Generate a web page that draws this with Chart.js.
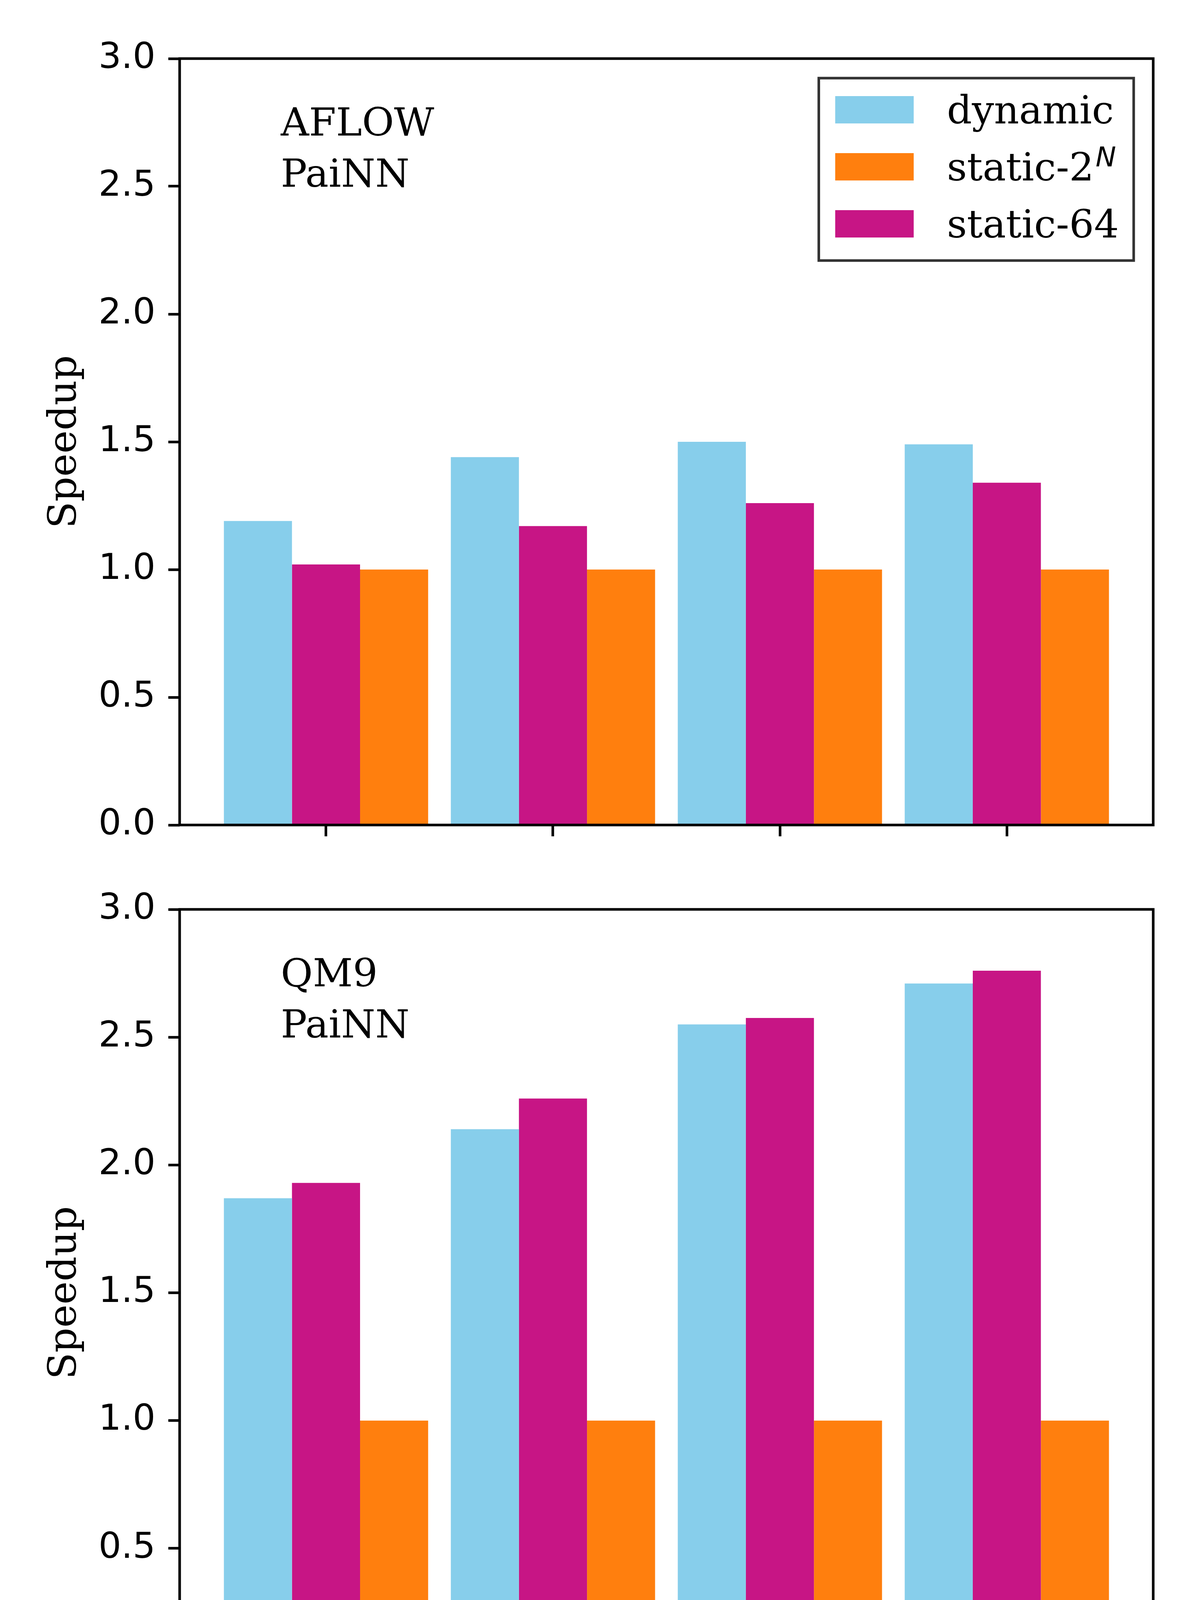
<!DOCTYPE html>
<html><head><meta charset="utf-8">
<script src="https://cdn.jsdelivr.net/npm/chart.js@4.4.1/dist/chart.umd.min.js"></script>
<style>
html,body{margin:0;padding:0;background:#fff;}
body{width:3060px;height:4800px;position:relative;overflow:hidden;}
canvas{position:absolute;left:0;}
#c1{top:0;}
#c2{top:2240px;}
</style></head><body>
<canvas id="c1" width="3060" height="2240" style="width:3060px;height:2240px"></canvas>
<canvas id="c2" width="3060" height="2560" style="width:3060px;height:2560px"></canvas>
<script>
// ---- data ----
const batchSizes = ['16', '32', '64', '128'];
const seriesNames = ['dynamic', 'static-64', 'static-2^N'];      // bar order within a group
const legendOrder = ['dynamic', 'static-2^N', 'static-64'];      // legend order
const aflowDynamic  = [1.19, 1.44, 1.50, 1.49];
const aflowStatic64 = [1.02, 1.17, 1.26, 1.34];
const aflowStatic2N = [1.00, 1.00, 1.00, 1.00];
const qm9Dynamic    = [1.87, 2.14, 2.55, 2.71];
const qm9Static64   = [1.93, 2.26, 2.575, 2.76];
const qm9Static2N   = [1.00, 1.00, 1.00, 1.00];
const topPanelText    = ['AFLOW', 'PaiNN'];
const bottomPanelText = ['QM9', 'PaiNN'];
const yAxisTitle = 'Speedup';
const xAxisTitle = 'Batch size';

// ---- styles ----
const seriesColors = ['#87CEEB', '#C71585', '#FF7F0E'];
const LW = 6.67;
const TICK_FONT = {family: 'DejaVu Sans', size: 91.7};
const SERIF = 'DejaVu Serif';

function toPoints(arr){ return arr.map((v, i) => ({x: i, y: v})); }
function makeDatasets(values){
  return values.map((vals, k) => ({
    label: seriesNames[k],
    data: toPoints(vals),
    backgroundColor: seriesColors[k],
    borderWidth: 0,
    categoryPercentage: 0.9,
    barPercentage: 1.0
  }));
}

const framePlugin = {
  id: 'frame',
  afterDatasetsDraw(chart){
    const {ctx, chartArea: a} = chart;
    ctx.save();
    ctx.strokeStyle = '#000';
    ctx.lineWidth = LW;
    ctx.strokeRect(a.left, a.top, a.right - a.left, a.bottom - a.top);
    ctx.restore();
  }
};

const panelTextPlugin = {
  id: 'panelText',
  afterDraw(chart, args, opts){
    if (!opts || !opts.lines) return;
    const {ctx, chartArea: a} = chart;
    ctx.save();
    ctx.font = `100px "${SERIF}"`;
    ctx.fillStyle = '#000';
    ctx.textAlign = 'left';
    ctx.textBaseline = 'alphabetic';
    opts.lines.forEach((t, i) => ctx.fillText(t, a.left + 259, a.top + 197 + i * 131));
    ctx.restore();
  }
};

function splitLabel(label){
  const p = label.split('^');
  return {base: p[0], sup: p[1] || ''};
}
const boxLegendPlugin = {
  id: 'boxLegend',
  afterDraw(chart, args, opts){
    if (!opts || !opts.show) return;
    const {ctx, chartArea: a} = chart;
    const baseFont = `100px "${SERIF}"`;
    const supFont = `italic 70px "DejaVu Sans"`;
    const items = legendOrder.map(name => {
      const i = seriesNames.indexOf(name);
      return {label: name, color: chart.data.datasets[i].backgroundColor};
    });
    ctx.save();
    const widths = items.map(it => {
      const s = splitLabel(it.label);
      ctx.font = baseFont; let w = ctx.measureText(s.base).width;
      if (s.sup){ ctx.font = supFont; w += ctx.measureText(s.sup).width + 4; }
      return w;
    });
    const maxW = Math.max(...widths);
    const padL = 42, handleW = 201, handleH = 70, gap = 85, padR = 38, rowH = 146;
    const boxW = padL + handleW + gap + maxW + padR;
    const boxH = 467;
    const right = a.right - 50, top = a.top + 50, left = right - boxW;
    ctx.fillStyle = '#fff';
    ctx.fillRect(left, top, boxW, boxH);
    ctx.strokeStyle = '#333333';
    ctx.lineWidth = LW;
    ctx.strokeRect(left, top, boxW, boxH);
    items.forEach((it, r) => {
      const cy = top + 81 + r * rowH;
      ctx.fillStyle = it.color;
      ctx.fillRect(left + padL, cy - handleH / 2, handleW, handleH);
      const s = splitLabel(it.label);
      const tx = left + padL + handleW + gap;
      const by = cy + 35;
      ctx.fillStyle = '#000';
      ctx.textAlign = 'left';
      ctx.textBaseline = 'alphabetic';
      ctx.font = baseFont;
      ctx.fillText(s.base, tx, by);
      if (s.sup){
        const bw = ctx.measureText(s.base).width;
        ctx.font = supFont;
        ctx.fillText(s.sup, tx + bw + 4, by - 36);
      }
    });
    ctx.restore();
  }
};

function makeChart(canvasId, values, cfg){
  return new Chart(document.getElementById(canvasId), {
    type: 'bar',
    data: {datasets: makeDatasets(values)},
    plugins: [framePlugin, panelTextPlugin, boxLegendPlugin],
    options: {
      responsive: false,
      devicePixelRatio: 1,
      animation: false,
      layout: {padding: {left: 108, right: 107, top: cfg.padTop, bottom: cfg.padBottom}},
      plugins: {
        legend: {display: false},
        tooltip: {enabled: false},
        panelText: {lines: cfg.text},
        boxLegend: {show: cfg.legend}
      },
      scales: {
        x: {
          type: 'linear',
          min: -0.645,
          max: 3.645,
          offset: false,
          border: {display: false},
          grid: {display: true, drawOnChartArea: false, drawTicks: true, tickLength: 29, tickWidth: LW, tickColor: '#000', offset: false},
          afterBuildTicks: s => { s.ticks = batchSizes.map((b, i) => ({value: i})); },
          afterFit: s => { s.height = cfg.xHeight; },
          ticks: {
            display: cfg.xLabels,
            autoSkip: false,
            minRotation: 45,
            maxRotation: 45,
            padding: 28,
            labelOffset: 56,
            color: '#000',
            font: TICK_FONT,
            callback: v => batchSizes[v]
          },
          title: {display: cfg.xLabels, text: xAxisTitle, color: '#000', font: {family: SERIF, size: 100}, padding: 0}
        },
        y: {
          min: 0,
          max: 3,
          border: {display: false},
          grid: {display: true, drawOnChartArea: false, drawTicks: true, tickLength: 29, tickWidth: LW, tickColor: '#000'},
          afterFit: s => { s.width = 352; },
          ticks: {stepSize: 0.5, padding: 33, color: '#000', font: TICK_FONT, callback: v => Number(v).toFixed(1)},
          title: {display: true, text: yAxisTitle, color: '#000', font: {family: SERIF, size: 100}, padding: 0}
        }
      }
    }
  });
}

makeChart('c1', [aflowDynamic, aflowStatic64, aflowStatic2N],
  {padTop: 150, padBottom: 0, xHeight: 128, xLabels: false, text: topPanelText, legend: true});
makeChart('c2', [qm9Dynamic, qm9Static64, qm9Static2N],
  {padTop: 88, padBottom: 112, xHeight: 397, xLabels: true, text: bottomPanelText, legend: false});
</script>
</body></html>
